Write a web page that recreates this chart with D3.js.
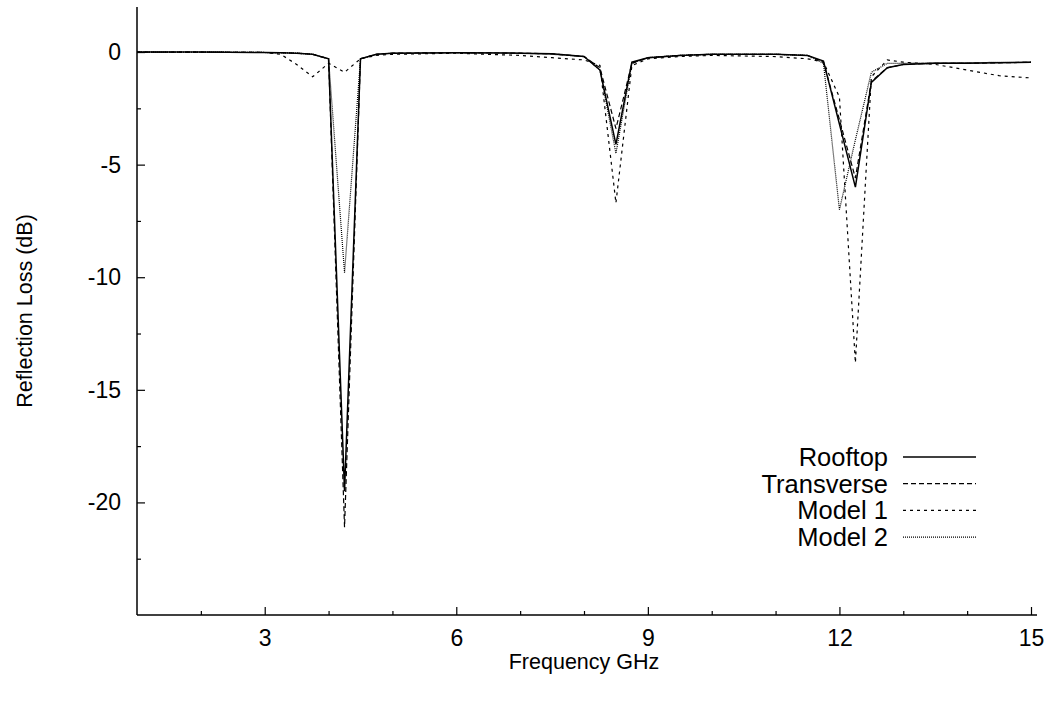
<!DOCTYPE html>
<html>
<head>
<meta charset="utf-8">
<script src="https://cdn.jsdelivr.net/npm/d3@7"></script>
<style>
  body { margin: 0; background: #fff; }
  svg { display: block; }
</style>
</head>
<body>
<svg id="chart"></svg>
<script>
// frequency grid (GHz) shared by all series
const freq = [1, 2, 3, 3.25, 3.5, 3.75, 4, 4.25, 4.5, 4.75, 5, 6, 7, 7.5, 8, 8.25, 8.5, 8.75,
              9, 9.5, 10, 11, 11.5, 11.75, 12, 12.25, 12.5, 12.75, 13, 13.5, 14, 14.5, 15];

const rooftop    = [0, 0, -0.02, -0.03, -0.05, -0.1, -0.3, -19.5, -0.3, -0.1, -0.05, -0.03, -0.05, -0.08, -0.2, -0.8, -4.1, -0.45,
                    -0.25, -0.15, -0.1, -0.1, -0.15, -0.4, -3.2, -6.0, -1.35, -0.7, -0.55, -0.5, -0.5, -0.48, -0.45];
const transverse = [0, 0, -0.02, -0.03, -0.05, -0.1, -0.3, -21.1, -0.3, -0.1, -0.05, -0.03, -0.05, -0.08, -0.2, -0.7, -3.4, -0.5,
                    -0.25, -0.15, -0.1, -0.1, -0.15, -0.45, -3.0, -5.6, -1.3, -0.7, -0.55, -0.5, -0.5, -0.48, -0.45];
const model1     = [0, 0, -0.02, -0.1, -0.55, -1.1, -0.5, -0.9, -0.3, -0.15, -0.1, -0.05, -0.15, -0.25, -0.35, -0.6, -6.7, -0.6,
                    -0.3, -0.2, -0.15, -0.2, -0.3, -0.45, -2.0, -13.8, -1.1, -0.35, -0.45, -0.55, -0.8, -1.05, -1.15];
const model2     = [0, 0, -0.02, -0.03, -0.05, -0.1, -0.3, -9.8, -0.3, -0.1, -0.05, -0.03, -0.05, -0.1, -0.2, -0.8, -4.5, -0.5,
                    -0.25, -0.15, -0.1, -0.1, -0.15, -0.5, -7.0, -3.9, -0.9, -0.5, -0.5, -0.48, -0.47, -0.46, -0.45];

const seriesNames = ["Rooftop", "Transverse", "Model 1", "Model 2"];
const seriesDash  = [null, "5,3", "3,4", "1,1"];

const xMajor = [3, 6, 9, 12, 15];
const xMinor = [2, 4, 5, 7, 8, 10, 11, 13, 14];
const yMajor = [0, -5, -10, -15, -20];
const yMinor = [-2.5, -7.5, -12.5, -17.5, -22.5];

const width = 1052, height = 701;
const fontFamily = "'Liberation Sans', Arial, Helvetica, sans-serif";

const svg = d3.select("#chart").attr("width", width).attr("height", height);

const x = d3.scaleLinear().domain([1, 15]).range([137, 1031]);
const y = d3.scaleLinear().domain([-25, 2]).range([615, 7]);

// axes lines (left + bottom only)
svg.append("line")
    .attr("x1", x(1)).attr("x2", x(1))
    .attr("y1", y(2)).attr("y2", y(-25))
    .attr("stroke", "#000").attr("stroke-width", 1.5);
svg.append("line")
    .attr("x1", x(1)).attr("x2", x(15) + 6)
    .attr("y1", y(-25)).attr("y2", y(-25))
    .attr("stroke", "#000").attr("stroke-width", 1.5);

// y ticks, pointing inward
svg.append("g")
    .attr("transform", `translate(${x(1)},0)`)
    .call(d3.axisLeft(y).tickValues(yMajor).tickSize(-8).tickSizeOuter(0).tickPadding(16)
        .tickFormat(d => String(d)));
svg.append("g")
    .attr("transform", `translate(${x(1)},0)`)
    .call(d3.axisLeft(y).tickValues(yMinor).tickSize(-4).tickSizeOuter(0).tickFormat(""));

// x ticks
svg.append("g")
    .attr("transform", `translate(0,${y(-25)})`)
    .call(d3.axisBottom(x).tickValues(xMajor).tickSize(-8).tickSizeOuter(0).tickPadding(15));
svg.append("g")
    .attr("transform", `translate(0,${y(-25)})`)
    .call(d3.axisBottom(x).tickValues(xMinor).tickSize(-4).tickSizeOuter(0).tickFormat(""));

svg.selectAll(".domain").remove();
svg.selectAll(".tick line").attr("stroke", "#000").attr("stroke-width", 1.2);
svg.selectAll(".tick text")
    .attr("font-family", fontFamily)
    .attr("font-size", 23)
    .attr("fill", "#000");

// axis titles
svg.append("text")
    .text("Frequency GHz")
    .attr("x", (x(1) + x(15)) / 2)
    .attr("y", 669)
    .attr("text-anchor", "middle")
    .attr("font-family", fontFamily)
    .attr("font-size", 21.5);
svg.append("text")
    .text("Reflection Loss (dB)")
    .attr("transform", `translate(32, ${(y(2) + y(-25)) / 2}) rotate(-90)`)
    .attr("text-anchor", "middle")
    .attr("font-family", fontFamily)
    .attr("font-size", 21.5);

// lines
const allSeries = [rooftop, transverse, model1, model2];
const line = d3.line()
    .x((d, i) => x(freq[i]))
    .y(d => y(d));

svg.append("g")
    .selectAll("path")
    .data(allSeries)
    .enter()
    .append("path")
    .attr("d", d => line(d))
    .attr("fill", "none")
    .attr("stroke", "#000")
    .attr("stroke-width", (d, i) => i === 0 ? 1.5 : 1.2)
    .attr("stroke-dasharray", (d, i) => seriesDash[i]);

// legend
const legend = svg.append("g");
seriesNames.forEach((name, i) => {
    let ly = 457 + i * 26.7;
    legend.append("text")
        .text(name)
        .attr("x", 888)
        .attr("y", ly + 9)
        .attr("text-anchor", "end")
        .attr("font-family", fontFamily)
        .attr("font-size", 25.5);
    legend.append("line")
        .attr("x1", 903).attr("x2", 976)
        .attr("y1", ly).attr("y2", ly)
        .attr("stroke", "#000")
        .attr("stroke-width", i === 0 ? 1.5 : 1.2)
        .attr("stroke-dasharray", seriesDash[i]);
});
</script>
</body>
</html>
